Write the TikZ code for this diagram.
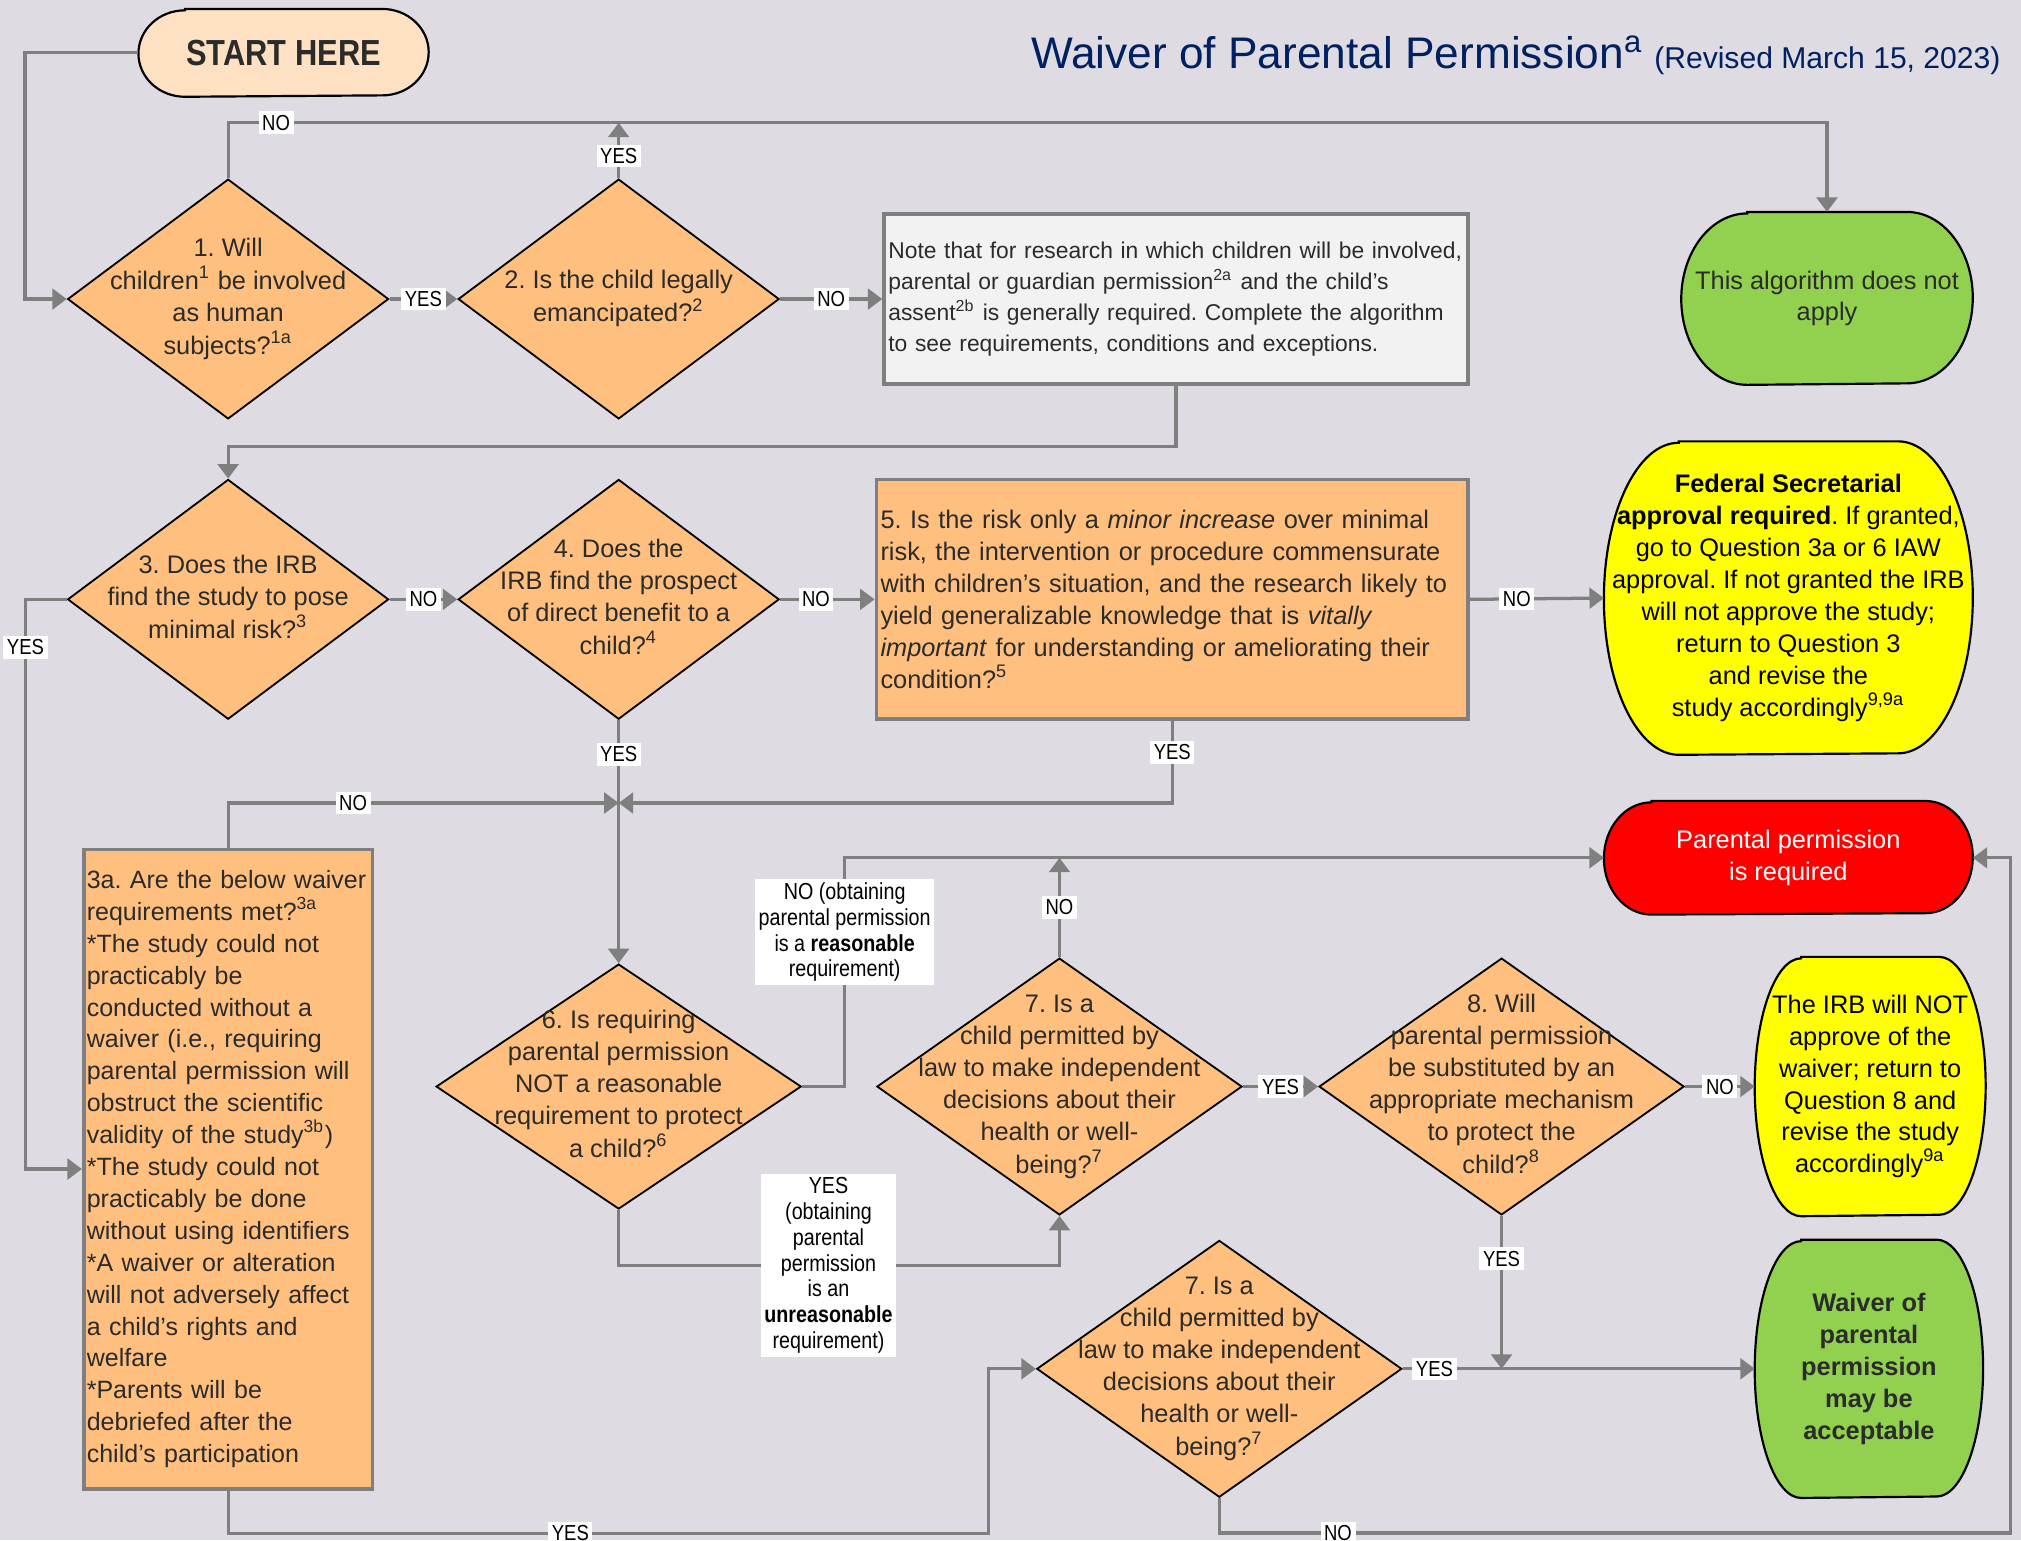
\documentclass[tikz,border=0pt]{standalone}
\usepackage{fontspec}
\setmainfont{Liberation Sans}
\newfontfamily\condfont{Liberation Sans}[FakeStretch=0.85]
\frenchspacing
\usetikzlibrary{arrows.meta,positioning,calc,shapes.geometric,backgrounds}
\definecolor{paper}{HTML}{DEDBE2}
\definecolor{ink}{HTML}{2B2B2B}
\definecolor{navy}{HTML}{002060}
\definecolor{apricot}{HTML}{FFBF7F}
\definecolor{peach}{HTML}{FDE1C2}
\definecolor{leaf}{HTML}{92D050}
\definecolor{lemon}{HTML}{FFFF00}
\definecolor{alarm}{HTML}{FF0000}
\definecolor{memo}{HTML}{F2F2F2}
\definecolor{wire}{HTML}{7F7F7F}
\newcommand\softshape[4]{%
  \path[draw=black,line width=0.6pt,fill=#4]
    ($(#1.north west)+(#2,0)$) -- ($(#1.north east)+(-#2,0)$)
    arc[start angle=90,end angle=-90,x radius=#2,y radius=#3]
    -- ($(#1.south west)+(#2,0)$)
    arc[start angle=270,end angle=90,x radius=#2,y radius=#3] -- cycle;}
\newcommand\asktext[1]{\hbox to 0pt{\hss\begin{tabular}{@{}c@{}}#1\end{tabular}\hss}}

\begin{document}
\begin{tikzpicture}[x=0.0125cm,y=-0.0125cm,
    font=\fontsize{7}{8.8}\selectfont,
    ask/.style={diamond,draw=black,line width=0.5pt,fill=apricot,inner sep=0pt,text=ink},
    cond/.style={rectangle,draw=wire,line width=1pt,fill=apricot,inner xsep=0.04cm,
                 inner ysep=0pt,align=left,text=ink},
    memobox/.style={cond,fill=memo,font=\fontsize{6.3}{8.6}\selectfont},
    term/.style={rectangle,inner sep=0pt,align=center,text=ink},
    flow/.style={draw=wire,line width=0.9pt,-{Triangle[length=0.14cm,width=0.2cm]}},
    tag/.style={fill=white,inner sep=1pt,text=black,font=\condfont\fontsize{6}{7}\selectfont},
    tagbox/.style={tag,align=center,font=\condfont\fontsize{6.4}{7.1}\selectfont}]
  \begin{scope}[on background layer]
    \fill[paper] (0,0) rectangle (1568,1195);
  \end{scope}
  \useasboundingbox (0,0) rectangle (1568,1195);

  \node[term,minimum width=2.8cm,minimum height=0.8375cm,
        font=\condfont\bfseries\fontsize{10}{12}\selectfont] (start) at (220,41) {START HERE};
  \node[anchor=base west,text=navy,font=\fontsize{12.2}{15}\selectfont] (title) at (790,53)
    {Waiver of Parental Permission\textsuperscript{a}};
  \node[anchor=base east,text=navy,font=\fontsize{8.3}{10}\selectfont] (revised) at (1562,53)
    {(Revised March 15, 2023)};

  \node[ask,minimum width=3.1125cm,minimum height=2.325cm] (q1) at (177,232)
    {\asktext{1. Will\\children\textsuperscript{1} be involved\\as human\\subjects?\textsuperscript{1a}}};
  \node[ask,minimum width=3.1125cm,minimum height=2.325cm] (q2) at (480,232)
    {\asktext{2. Is the child legally\\emancipated?\textsuperscript{2}}};
  \node[memobox,minimum width=5.6625cm,minimum height=1.65cm,text width=5.58cm] (note) at (912.5,232)
    {Note that for research in which children will be involved,\\
     parental or guardian permission\textsuperscript{2a} and the child’s\\
     assent\textsuperscript{2b} is generally required. Complete the algorithm\\
     to see requirements, conditions and exceptions.};
  \node[term,minimum width=2.8125cm,minimum height=1.6625cm] (na) at (1417.5,231.5)
    {This algorithm does not\\apply};

  \node[ask,minimum width=3.1125cm,minimum height=2.325cm] (q3) at (177,465)
    {\asktext{3. Does the IRB\\find the study to pose\\minimal risk?\textsuperscript{3}}};
  \node[ask,minimum width=3.1125cm,minimum height=2.325cm] (q4) at (480,465)
    {\asktext{4. Does the\\IRB find the prospect\\of direct benefit to a\\child?\textsuperscript{4}}};
  \node[cond,minimum width=5.7375cm,minimum height=2.325cm,text width=5.6575cm] (q5) at (909.5,465)
    {5. Is the risk only a \textit{minor increase} over minimal\\
     risk, the intervention or procedure commensurate\\
     with children’s situation, and the research likely to\\
     yield generalizable knowledge that is \textit{vitally}\\
     \textit{important} for understanding or ameliorating their\\
     condition?\textsuperscript{5}};
  \node[term,minimum width=3.5625cm,minimum height=3.025cm,text=black] (fed) at (1387.5,464)
    {\textbf{Federal Secretarial}\\\textbf{approval required}. If granted,\\go to Question 3a or 6 IAW\\
     approval. If not granted the IRB\\will not approve the study;\\return to Question 3\\
     and revise the\\study accordingly\textsuperscript{9,9a}};

  \node[cond,minimum width=2.8cm,minimum height=6.2cm,text width=2.74cm,inner xsep=0.03cm,
        font=\fontsize{6.9}{8.8}\selectfont] (q3a) at (177,907)
    {\mbox{3a. Are the below waiver}\\requirements met?\textsuperscript{3a}\\
     {}*The study could not\\practicably be\\conducted without a\\waiver (i.e., requiring\\
     parental permission will\\obstruct the scientific\\validity of the study\textsuperscript{3b})\\
     {}*The study could not\\practicably be done\\without using identifiers\\
     {}*A waiver or alteration\\will not adversely affect\\a child’s rights and\\welfare\\
     {}*Parents will be\\debriefed after the\\child’s participation};
  \node[term,minimum width=3.5625cm,minimum height=1.0875cm,text=white] (req) at (1387.5,665.5)
    {Parental permission\\is required};

  \node[ask,minimum width=3.54cm,minimum height=2.375cm] (q6) at (480,843)
    {\asktext{6. Is requiring\\parental permission\\NOT a reasonable\\requirement to protect\\a child?\textsuperscript{6}}};
  \node[ask,minimum width=3.54cm,minimum height=2.49cm] (q7) at (822,843)
    {\asktext{7. Is a\\child permitted by\\law to make independent\\decisions about their\\health or well-\\being?\textsuperscript{7}}};
  \node[ask,minimum width=3.54cm,minimum height=2.49cm] (q8) at (1165,843)
    {\asktext{8. Will\\parental permission\\be substituted by an\\appropriate mechanism\\to protect the\\child?\textsuperscript{8}}};
  \node[term,minimum width=2.225cm,minimum height=2.5cm,text=black] (irbno) at (1451,843)
    {The IRB will NOT\\approve of the\\waiver; return to\\Question 8 and\\revise the study\\accordingly\textsuperscript{9a}};
  \node[ask,minimum width=3.54cm,minimum height=2.49cm] (q7b) at (946,1062)
    {\asktext{7. Is a\\child permitted by\\law to make independent\\decisions about their\\health or well-\\being?\textsuperscript{7}}};
  \node[term,minimum width=2.2cm,minimum height=2.49cm,font=\bfseries\fontsize{7}{8.8}\selectfont] (ok) at (1450,1062)
    {Waiver of\\parental\\permission\\may be\\acceptable};

  \begin{scope}[on background layer]
    \softshape{start}{0.45cm}{0.419cm}{peach}
    \softshape{na}{0.64cm}{0.831cm}{leaf}
    \softshape{fed}{0.725cm}{1.5125cm}{lemon}
    \softshape{req}{0.46cm}{0.544cm}{alarm}
    \softshape{irbno}{0.45cm}{1.25cm}{lemon}
    \softshape{ok}{0.45cm}{1.245cm}{leaf}
  \end{scope}

  \coordinate (meet) at (480,623);
  \draw[flow] (start.west) -- ++(-88,0) |- (q1.west);
  \draw[flow] (q1.north) -- ++(0,-43) -| node[tag,pos=0.015]{NO} (na.north);
  \draw[flow] (q2.north) -- node[tag,pos=0.4]{YES} ++(0,-43);
  \draw[flow] (q1.east) -- node[tag]{YES} (q2.west);
  \draw[flow] (q2.east) -- node[tag]{NO} (note.west);
  \draw[flow] (note.south) -- ++(0,47) -| (q3.north);
  \draw[flow] (q3.east) -- node[tag]{NO} (q4.west);
  \draw[flow] (q4.east) -- node[tag,pos=0.38]{NO} (q5.west);
  \draw[flow] (q5.east) -- node[tag,pos=0.35]{NO} (fed.west);
  \draw[flow] (q3.west) -- ++(-32,0) |- node[tag,pos=0.042]{YES} (q3a.west);
  \draw[flow] (q3a.north) |- node[tag,pos=0.66]{NO} (meet);
  \draw[flow] (q4.south) -- node[tag,pos=0.14]{YES} (q6.north);
  \draw[flow] (q5.south) |- node[tag,pos=0.19]{YES} (meet);
  \draw[flow] (q6.east) -- ++(33,0) |- node[tagbox,pos=0.337]
    {NO (obtaining\\parental permission\\is a \textbf{reasonable}\\requirement)} (req.west);
  \draw[flow] (q7.north) -- node[tag]{NO} (q7.north |- req.west);
  \draw[flow] (q6.south) -- ++(0,43) -| node[tagbox,pos=0.238]
    {YES\\(obtaining\\parental\\permission\\is an\\\textbf{unreasonable}\\requirement)} (q7.south);
  \draw[flow] (q7.east) -- node[tag]{YES} (q8.west);
  \draw[flow] (q8.east) -- node[tag]{NO} (irbno.west);
  \draw[flow] (q8.south) -- node[tag,pos=0.28]{YES} (q8.south |- q7b.east);
  \draw[flow] (q7b.east) -- node[tag,pos=0.09]{YES} (ok.west);
  \draw[flow] (q3a.south) -- ++(0,33) -- node[tag,pos=0.45]{YES} ++(590,0) |- (q7b.west);
  \draw[flow] (q7b.south) -- ++(0,27) -- node[tag,pos=0.15]{NO} ++(614,0) |- (req.east);
\end{tikzpicture}
\end{document}
